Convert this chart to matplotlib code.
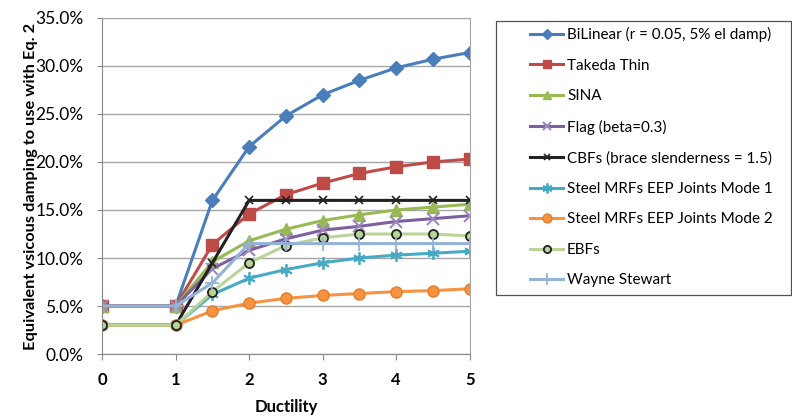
import matplotlib.pyplot as plt
from matplotlib.patches import Rectangle
from matplotlib.ticker import PercentFormatter

plt.rcParams["font.family"] = ["Lato", "DejaVu Sans"]

# ----------------------
# Damping curves vs ductility
# ----------------------
ductility = [0, 1, 1.5, 2, 2.5, 3, 3.5, 4, 4.5, 5]

bilinear = [5.0, 5.0, 16.0, 21.6, 24.8, 27.0, 28.5, 29.8, 30.7, 31.4]
takeda = [5.0, 5.0, 11.4, 14.6, 16.6, 17.8, 18.8, 19.5, 20.0, 20.3]
sina = [5.0, 5.0, 9.6, 11.8, 13.0, 13.9, 14.5, 15.0, 15.3, 15.6]
flag = [5.0, 5.0, 8.9, 10.8, 12.0, 12.9, 13.3, 13.8, 14.1, 14.4]
cbfs = [3.0, 3.0, 9.5, 16.0, 16.0, 16.0, 16.0, 16.0, 16.0, 16.0]
mrf_mode1 = [3.0, 3.0, 6.2, 7.9, 8.8, 9.5, 10.0, 10.3, 10.5, 10.7]
mrf_mode2 = [3.0, 3.0, 4.5, 5.3, 5.8, 6.1, 6.3, 6.5, 6.6, 6.8]
ebfs = [3.0, 3.0, 6.5, 9.5, 11.3, 12.1, 12.5, 12.5, 12.5, 12.3]
wayne = [5.0, 5.0, 7.4, 11.5, 11.5, 11.5, 11.5, 11.5, 11.5, 11.5]

fig = plt.figure(figsize=(7.92, 4.17), dpi=100)
ax = fig.add_axes([0.129, 0.151, 0.464, 0.806])

lw = 2.2
ax.plot(ductility, bilinear, color="#4A7EBB", lw=lw, marker="D", ms=7,
        label="BiLinear (r = 0.05, 5% el damp)")
ax.plot(ductility, takeda, color="#BE4B48", lw=lw, marker="s", ms=8,
        label="Takeda Thin")
ax.plot(ductility, sina, color="#98B954", lw=lw, marker="^", ms=8,
        label="SINA")
ax.plot(ductility, flag, color="#7D60A0", lw=lw, marker="x", ms=8, mew=1.5,
        mec="#9F88C0", label="Flag (beta=0.3)")
ax.plot(ductility, cbfs, color="#222222", lw=lw, marker="x", ms=6, mew=1.2,
        label="CBFs (brace slenderness = 1.5)")
ax.plot(ductility, mrf_mode1, color="#46AAC5", lw=lw, marker=(6, 2, 0), ms=9,
        mew=1.3, label="Steel MRFs EEP Joints Mode 1")
ax.plot(ductility, mrf_mode2, color="#F69240", lw=lw, marker="o", ms=8,
        mec="#E07F2E", label="Steel MRFs EEP Joints Mode 2")
ax.plot(ductility, ebfs, color="#B9D496", lw=lw, marker="o", ms=6.5,
        mfc="#B9D496", mec="#222222", mew=1.3, label="EBFs")
ax.plot(ductility, wayne, color="#95B3D7", lw=lw, marker="+", ms=10, mew=1.3,
        label="Wayne Stewart")

ax.set_xlim(0, 5)
ax.set_ylim(0, 35)
ax.set_xticks(range(6))
ax.set_yticks(range(0, 36, 5))
ax.yaxis.set_major_formatter(PercentFormatter(decimals=1))
ax.grid(axis="y", color="#A6A6A6", lw=1)
ax.set_axisbelow(True)

for side in ["left", "bottom"]:
    ax.spines[side].set_color("#868686")
for side in ["top", "right"]:
    ax.spines[side].set_color("#A6A6A6")

ax.tick_params(axis="y", labelsize=12.5, length=3.6, color="#868686", pad=10)
ax.tick_params(axis="x", labelsize=12, length=4.3, color="#868686", pad=8.5)
for t in ax.get_xticklabels():
    t.set_fontweight("bold")

ax.set_xlabel("Ductility", fontsize=12, fontweight="bold", labelpad=8)
ax.set_ylabel("Equivalent vsicous damping to use with Eq. 2", fontsize=11.8,
              fontweight="bold", labelpad=-2)

# legend box drawn separately so the entries can sit inset from the frame
fig.patches.append(Rectangle((496 / 792, 1 - 295 / 417), 295 / 792, 274 / 417,
                             transform=fig.transFigure, fill=False,
                             edgecolor="#505050", lw=0.9))
fig.legend(loc="upper left", bbox_to_anchor=(530 / 792, 1 - 27 / 417),
           fontsize=11, frameon=False, handlelength=2.16, handletextpad=0.26,
           labelspacing=1.08, borderpad=0, markerscale=0.8, borderaxespad=0)

fig.savefig("out.png", dpi=100)
